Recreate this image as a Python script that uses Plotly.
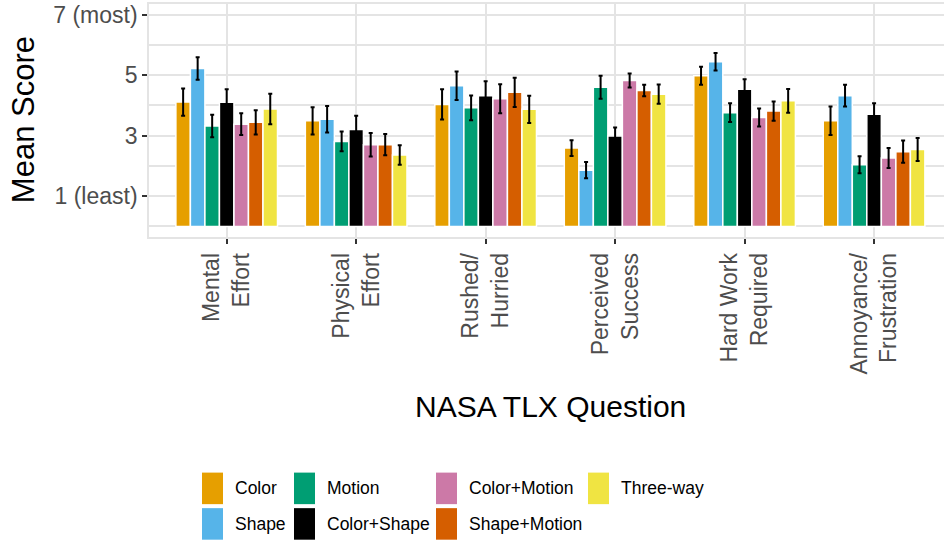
import plotly.graph_objects as go

# NASA TLX mean scores (1 = least, 7 = most) per feedback condition
questions = ["Mental<br>Effort", "Physical<br>Effort", "Rushed/<br>Hurried",
             "Perceived<br>Success", "Hard Work<br>Required", "Annoyance/<br>Frustration"]

conditions = ["Color", "Shape", "Motion", "Color+Shape",
              "Color+Motion", "Shape+Motion", "Three-way"]

colors = ["#E69F00", "#56B4E9", "#009E73", "#000000",
          "#CC79A7", "#D55E00", "#F0E442"]

color_mean = [4.11, 3.49, 4.03, 2.59, 4.98, 3.49]
shape_mean = [5.22, 3.54, 4.65, 1.86, 5.44, 4.32]
motion_mean = [3.32, 2.81, 3.92, 4.60, 3.76, 2.04]
color_shape_mean = [4.10, 3.20, 4.32, 2.99, 4.53, 3.71]
color_motion_mean = [3.38, 2.70, 4.22, 4.82, 3.60, 2.26]
shape_motion_mean = [3.44, 2.70, 4.43, 4.49, 3.81, 2.47]
three_way_mean = [3.88, 2.36, 3.87, 4.37, 4.15, 2.54]

color_err = [0.45, 0.45, 0.50, 0.26, 0.30, 0.47]
shape_err = [0.37, 0.44, 0.47, 0.27, 0.29, 0.36]
motion_err = [0.37, 0.33, 0.41, 0.38, 0.31, 0.28]
color_shape_err = [0.43, 0.46, 0.48, 0.28, 0.33, 0.36]
color_motion_err = [0.36, 0.39, 0.48, 0.23, 0.30, 0.33]
shape_motion_err = [0.40, 0.35, 0.48, 0.19, 0.32, 0.37]
three_way_err = [0.50, 0.32, 0.45, 0.32, 0.39, 0.38]

means = [color_mean, shape_mean, motion_mean, color_shape_mean,
         color_motion_mean, shape_motion_mean, three_way_mean]
errs = [color_err, shape_err, motion_err, color_shape_err,
        color_motion_err, shape_motion_err, three_way_err]

y_tickvals = [1, 3, 5, 7]
y_ticktext = ["1 (least)", "3", "5", "7 (most)"]

W, H = 944, 541
L, R, T, B = 149, 944, 4, 236.7   # plot panel edges in pixels

FONT = "Liberation Sans, Arial, sans-serif"
GRID = "#E4E4E4"


def px_x(p):
    return (p - L) / (R - L)


def px_y(p):
    return (B - p) / (B - T)


fig = go.Figure()
for name, col, m, e in zip(conditions, colors, means, errs):
    fig.add_trace(go.Bar(
        name=name, x=questions, y=m,
        marker=dict(color=col, line=dict(color="white", width=1.5)),
        error_y=dict(type="data", array=e, visible=True,
                     color="black", thickness=2, width=2),
        showlegend=False,
    ))

# Legend: keys laid out column by column, two rows per column
col_left = [202, 294, 436, 588]
row_top = [472, 507.5]
key_w, key_h = 21, 31.5
shapes, annotations = [], []
for i, (name, col) in enumerate(zip(conditions, colors)):
    c, r = i // 2, i % 2
    x0, y0 = col_left[c], row_top[r]
    shapes.append(dict(type="rect", xref="paper", yref="paper",
                       x0=px_x(x0), x1=px_x(x0 + key_w),
                       y0=px_y(y0 + key_h), y1=px_y(y0),
                       fillcolor=col, line=dict(width=0), layer="above"))
    annotations.append(dict(text=name, xref="paper", yref="paper",
                            x=px_x(x0 + 31), y=px_y(y0 + key_h / 2),
                            xanchor="left", yanchor="middle", showarrow=False,
                            font=dict(family=FONT, size=17.5, color="black")))

annotations.append(dict(text="NASA TLX Question", xref="paper", yref="paper",
                        x=px_x(550.5), y=px_y(406), xanchor="center",
                        yanchor="middle", showarrow=False,
                        font=dict(family=FONT, size=30, color="black")))
annotations.append(dict(text="Mean Score", xref="paper", yref="paper",
                        x=px_x(23.5), y=px_y(119.5), xanchor="center",
                        yanchor="middle", showarrow=False, textangle=-90,
                        font=dict(family=FONT, size=31, color="black")))

fig.update_layout(
    width=W, height=H,
    margin=dict(l=L, r=W - R, t=T, b=H - B, pad=0),
    plot_bgcolor="white", paper_bgcolor="white",
    barmode="group", bargap=0.215, bargroupgap=0,
    shapes=shapes, annotations=annotations,
    font=dict(family=FONT),
)

fig.update_xaxes(
    range=[-0.6, 5.54], showgrid=True, gridcolor=GRID, gridwidth=1.6,
    showline=True, linecolor=GRID, linewidth=1.6, mirror=True,
    ticks="outside", ticklen=5, tickwidth=2, tickcolor="#333333",
    tickangle=-90, tickfont=dict(family=FONT, size=23, color="#4D4D4D"),
    zeroline=False,
)
fig.update_yaxes(
    range=[-0.35, 7.35], tickvals=y_tickvals, ticktext=y_ticktext,
    showgrid=True, gridcolor=GRID, gridwidth=1.6,
    minor=dict(tickvals=[0, 2, 4, 6], showgrid=True, gridcolor=GRID,
               gridwidth=1.6, ticks=""),
    showline=True, linecolor=GRID, linewidth=1.6,
    ticks="outside", ticklen=5, tickwidth=2, tickcolor="#333333",
    tickfont=dict(family=FONT, size=23, color="#4D4D4D"),
    zeroline=False,
)

fig.write_html("out.html")
